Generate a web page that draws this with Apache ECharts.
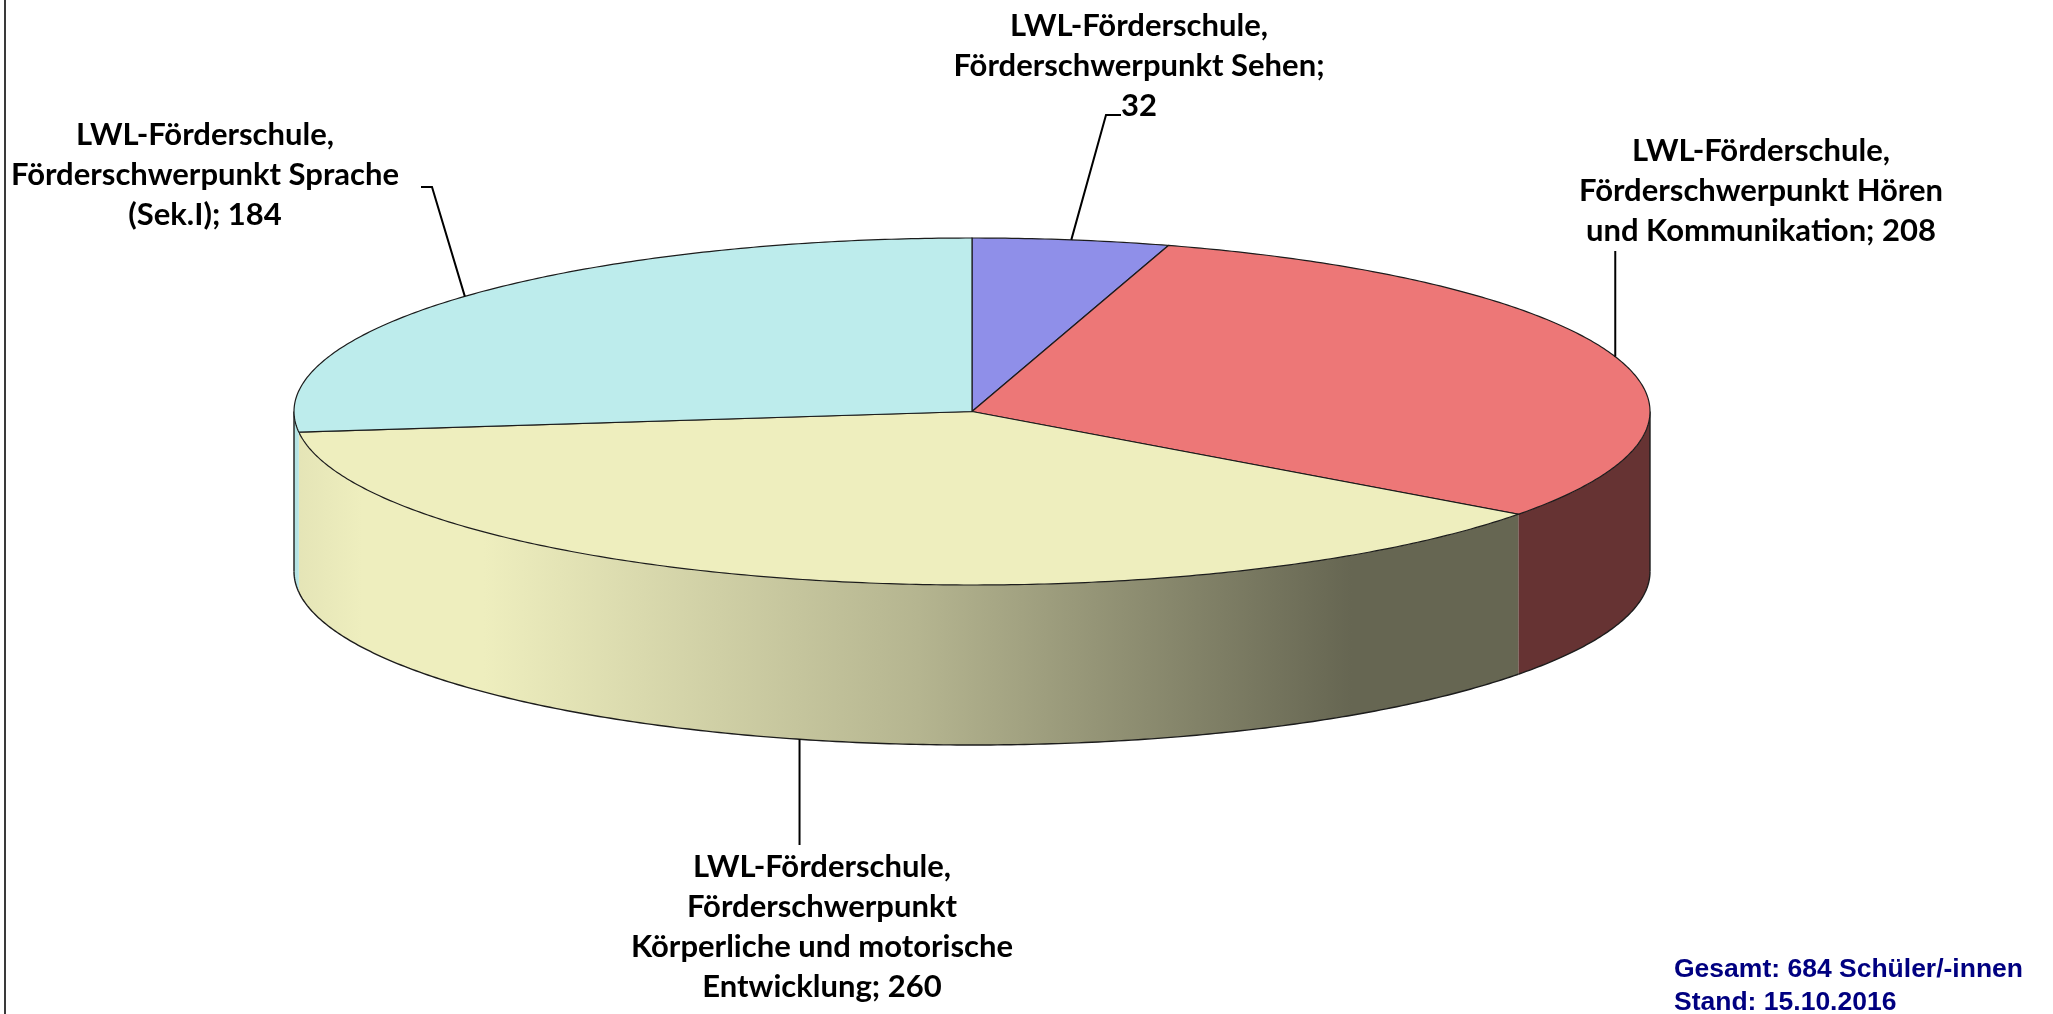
<!DOCTYPE html>
<html>
<head>
<meta charset="utf-8">
<script src="https://cdn.jsdelivr.net/npm/echarts@6/dist/echarts.min.js"></script>
<style>
html, body { margin: 0; padding: 0; background: #fff; }
#chart { width: 2053px; height: 1014px; }
</style>
</head>
<body>
<div id="chart"></div>
<script>
// data
var categories = [
    'LWL-Förderschule,\nFörderschwerpunkt Sehen',
    'LWL-Förderschule,\nFörderschwerpunkt Hören\nund Kommunikation',
    'LWL-Förderschule,\nFörderschwerpunkt\nKörperliche und motorische\nEntwicklung',
    'LWL-Förderschule,\nFörderschwerpunkt Sprache\n(Sek.I)'
];
var values = [32, 208, 260, 184];
var standDate = '15.10.2016';

// styles / layout
var colors = ['#8f8fe9', '#ed7777', '#eeeebe', '#bdecec'];
var labelSep = ['\n', ' ', ' ', ' '];
var cx = 972, cy = 411.5, rx = 678, ry = 173.5, depth = 160;
var labelPos = [[1139, 6], [1761, 131], [822, 847], [205, 115]];
// leader line points after the anchor; null x = keep anchor x
var leaderPts = [
    [[1106, 115], [1121, 115]],
    [[null, 251]],
    [[null, 845]],
    [[432, 187], [421, 187]]
];
var edge = '#1c1c1c';

var total = values.reduce(function (a, b) { return a + b; }, 0);
var starts = [], ends = [], acc = 0;
values.forEach(function (v) {
    starts.push(-Math.PI / 2 + acc / total * 2 * Math.PI);
    acc += v;
    ends.push(-Math.PI / 2 + acc / total * 2 * Math.PI);
});

function pt(t, dy) {
    return [cx + rx * Math.cos(t), cy + ry * Math.sin(t) + (dy || 0)];
}
function arc(t0, t1, dy) {
    var n = Math.max(2, Math.ceil(Math.abs(t1 - t0) / 0.01));
    var pts = [];
    for (var k = 0; k <= n; k++) {
        pts.push(pt(t0 + (t1 - t0) * k / n, dy));
    }
    return pts;
}
function shade(hex, f) {
    var r = parseInt(hex.substr(1, 2), 16), g = parseInt(hex.substr(3, 2), 16), b = parseInt(hex.substr(5, 2), 16);
    return 'rgb(' + Math.round(r * f) + ',' + Math.round(g * f) + ',' + Math.round(b * f) + ')';
}
function wallFill(hex) {
    var stops = [[0, 0.96], [0.05, 1], [0.14, 1], [0.46, 0.76], [0.78, 0.43], [1, 0.43]];
    return new echarts.graphic.LinearGradient(cx - rx, 0, cx + rx, 0, stops.map(function (s) {
        return { offset: s[0], color: shade(hex, s[1]) };
    }), true);
}

function renderPie(params, api) {
    var i = params.dataIndex;
    var t0 = starts[i], t1 = ends[i];
    var children = [];
    var a = Math.max(t0, 0), b = Math.min(t1, Math.PI);
    if (b > a) {
        children.push({
            type: 'polygon',
            shape: { points: arc(a, b, 0).concat(arc(b, a, depth)) },
            style: { fill: wallFill(colors[i]) }
        });
        children.push({
            type: 'polyline',
            shape: { points: arc(a, b, depth) },
            style: { stroke: edge, lineWidth: 1.4, fill: null }
        });
        if (t0 <= 0 && t1 > 0) {
            children.push({ type: 'line', shape: { x1: cx + rx, y1: cy, x2: cx + rx, y2: cy + depth }, style: { stroke: edge, lineWidth: 1.4 } });
        }
        if (t0 < Math.PI && t1 >= Math.PI) {
            children.push({ type: 'line', shape: { x1: cx - rx, y1: cy, x2: cx - rx, y2: cy + depth }, style: { stroke: edge, lineWidth: 1.4 } });
        }
    }
    children.push({
        type: 'polygon',
        shape: { points: [[cx, cy]].concat(arc(t0, t1, 0)) },
        style: { fill: colors[i], stroke: edge, lineWidth: 1.2 }
    });
    return { type: 'group', children: children };
}

function renderLabel(params, api) {
    var i = params.dataIndex;
    var tm = (starts[i] + ends[i]) / 2;
    var anchor = pt(tm, Math.sin(tm) > 0 ? depth : 0);
    var pts = [anchor];
    leaderPts[i].forEach(function (p) {
        pts.push([p[0] === null ? anchor[0] : p[0], p[1]]);
    });
    return {
        type: 'group',
        children: [
            { type: 'polyline', shape: { points: pts }, style: { stroke: '#000', lineWidth: 2, fill: null } },
            {
                type: 'text',
                style: {
                    text: categories[i] + ';' + labelSep[i] + api.value(0),
                    x: labelPos[i][0], y: labelPos[i][1],
                    align: 'center', verticalAlign: 'top',
                    fontFamily: 'Lato', fontWeight: 'bold', fontSize: 31, lineHeight: 40,
                    fill: '#000'
                }
            }
        ]
    };
}

var myChart = echarts.init(document.getElementById('chart'));
var option = {
    animation: false,
    title: {
        text: 'Gesamt: ' + total + ' Schüler/-innen\nStand: ' + standDate,
        left: 1674,
        top: 953,
        padding: 0,
        textStyle: {
            color: '#000080',
            fontFamily: 'Liberation Sans',
            fontWeight: 'bold',
            fontSize: 26.5,
            lineHeight: 33
        }
    },
    graphic: [
        { type: 'line', shape: { x1: 5, y1: 0, x2: 5, y2: 1014 }, style: { stroke: '#3a3a3a', lineWidth: 2 } }
    ],
    series: [
        {
            type: 'custom',
            coordinateSystem: 'none',
            renderItem: renderPie,
            data: values
        },
        {
            type: 'custom',
            coordinateSystem: 'none',
            renderItem: renderLabel,
            data: values
        }
    ]
};
myChart.setOption(option);
</script>
</body>
</html>
